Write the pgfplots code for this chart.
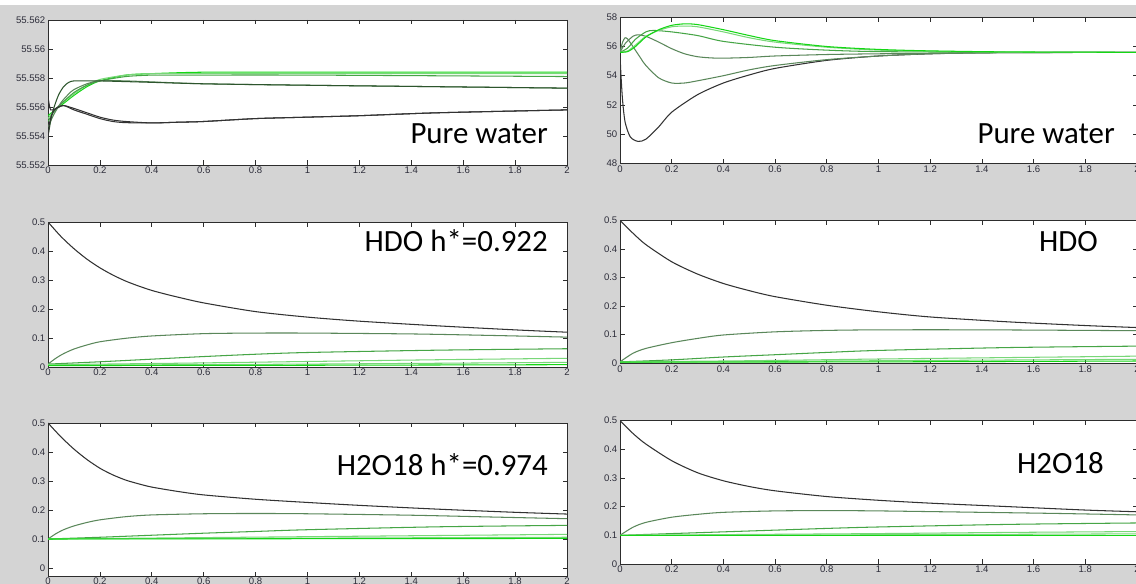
\documentclass[border=0pt]{standalone}
\usepackage{pgfplots}
\pgfplotsset{compat=1.18}
\usepackage{fontspec}
\setmainfont{Liberation Sans}
\newfontfamily\calfont{Carlito}
\definecolor{bg}{RGB}{212,212,212}
\definecolor{axl}{RGB}{45,45,45}
\definecolor{tlc}{RGB}{45,45,58}
\definecolor{kA}{RGB}{50,50,50}
\definecolor{kB}{RGB}{45,85,45}
\definecolor{kC}{RGB}{90,135,90}
\definecolor{kD}{RGB}{70,165,70}
\definecolor{kE}{RGB}{120,215,120}
\definecolor{kF}{RGB}{20,215,20}
\pgfplotsset{mat/.style={
  scale only axis, anchor=south west,
  xmin=0, xmax=2,
  axis background/.style={fill=white},
  axis line style={draw=axl, line width=0.9bp},
  tick align=inside, major tick length=4.5bp,
  xtick pos=both, ytick pos=both,
  xticklabel pos=left, yticklabel pos=left,
  xtick={0,0.2,0.4,0.6,0.8,1,1.2,1.4,1.6,1.8,2},
  xticklabels={0,0.2,0.4,0.6,0.8,1,1.2,1.4,1.6,1.8,2},
  tick style={draw=axl, line width=0.7bp},
  ticklabel style={font=\fontsize{9.6}{10}\selectfont, text=tlc},
  xticklabel style={inner sep=2pt},
  yticklabel style={inner sep=2.5pt},
  every axis plot/.append style={line width=1.05bp, smooth, tension=0.45, mark=none},
}}
\pgfplotsset{frac/.style={ymax=0.5, ytick={0,0.1,0.2,0.3,0.4,0.5}, yticklabels={0,0.1,0.2,0.3,0.4,0.5}}}
\begin{document}
\begin{tikzpicture}
\useasboundingbox (0,0) rectangle (1136bp,584bp);
\clip (0,0) rectangle (1136bp,584bp);
\fill[bg] (0,0) rectangle (1136bp,584bp);
\fill[white] (0,579bp) rectangle (1136bp,584bp);

% ---------- Top left: Pure water ----------
\begin{axis}[mat, at={(48bp,419bp)}, width=519bp, height=145bp,
  ymin=55.552, ymax=55.562,
  ytick={55.552,55.554,55.556,55.558,55.56,55.562},
  yticklabels={55.552,55.554,55.556,55.558,55.56,55.562}]
\addplot[kF] coordinates {(0,55.5554) (0.02,55.5557) (0.05,55.5561) (0.1,55.5568) (0.15,55.5574) (0.2,55.5578) (0.3,55.5582) (0.4,55.5583) (0.6,55.5584) (1,55.5584) (2,55.5584)};
\addplot[kE] coordinates {(0,55.5552) (0.02,55.5557) (0.05,55.5562) (0.1,55.5569) (0.15,55.5575) (0.2,55.5579) (0.3,55.5582) (0.4,55.5583) (0.6,55.5583) (1,55.5583) (2,55.5583)};
\addplot[kD] coordinates {(0,55.5550) (0.02,55.5556) (0.05,55.5562) (0.1,55.5570) (0.15,55.5575) (0.2,55.5578) (0.3,55.5581) (0.4,55.5582) (0.5,55.5582) (1,55.5582) (2,55.5581)};
\addplot[kC] coordinates {(0,55.5546) (0.02,55.5554) (0.05,55.5563) (0.08,55.5569) (0.1,55.5572) (0.15,55.5576) (0.2,55.5578) (0.3,55.5578) (0.6,55.5576) (1,55.5575) (1.5,55.5574) (2,55.5573)};
\addplot[kB] coordinates {(0,55.5540) (0.01,55.5550) (0.02,55.5558) (0.04,55.5568) (0.06,55.5574) (0.08,55.5577) (0.1,55.5578) (0.15,55.5578) (0.2,55.5578) (0.4,55.5577) (0.6,55.5576) (1,55.5575) (1.5,55.5574) (2,55.5573)};
\addplot[kA] coordinates {(0,55.5567) (0.01,55.5558) (0.03,55.5559) (0.06,55.5561) (0.1,55.5559) (0.15,55.5556) (0.2,55.5553) (0.25,55.5551) (0.3,55.5550) (0.4,55.5549) (0.5,55.55495) (0.6,55.5550) (0.8,55.5552) (1,55.5553) (1.2,55.5554) (1.5,55.5556) (2,55.5558)};
\addplot[kA] coordinates {(0,55.5538) (0.005,55.5548) (0.015,55.5555) (0.03,55.5559) (0.06,55.5561) (0.1,55.5558) (0.15,55.5555) (0.2,55.5552) (0.25,55.5550) (0.3,55.55492) (0.4,55.5549) (0.5,55.55495) (0.6,55.5550) (0.8,55.5552) (1,55.5553) (1.2,55.5554) (1.5,55.5556) (2,55.5558)};
\end{axis}

% ---------- Top right: Pure water ----------
\begin{axis}[mat, at={(620bp,420.7bp)}, width=517bp, height=146bp,
  ymin=48, ymax=58, ytick={48,50,52,54,56,58}, yticklabels={48,50,52,54,56,58}]
\addplot[kA] coordinates {(0,55.6) (0.003,54.3) (0.01,52.3) (0.02,50.8) (0.04,49.8) (0.07,49.5) (0.1,49.65) (0.15,50.5) (0.2,51.5) (0.3,52.7) (0.4,53.5) (0.5,54.05) (0.6,54.5) (0.8,55.05) (1,55.35) (1.2,55.5) (1.4,55.57) (2,55.6)};
\addplot[kC] coordinates {(0,55.6) (0.01,56.3) (0.02,56.6) (0.03,56.5) (0.05,56.0) (0.08,55.2) (0.1,54.7) (0.15,53.85) (0.2,53.5) (0.25,53.5) (0.3,53.65) (0.4,54.0) (0.5,54.4) (0.6,54.7) (0.8,55.1) (1,55.35) (1.2,55.5) (1.5,55.58) (2,55.6)};
\addplot[kC] coordinates {(0,55.6) (0.02,56.2) (0.05,56.7) (0.07,56.8) (0.1,56.7) (0.15,56.3) (0.2,55.85) (0.25,55.5) (0.3,55.3) (0.35,55.22) (0.4,55.2) (0.5,55.25) (0.6,55.35) (0.8,55.45) (1,55.5) (1.5,55.58) (2,55.6)};
\addplot[kD] coordinates {(0,55.6) (0.03,55.9) (0.06,56.5) (0.1,57.0) (0.13,57.1) (0.2,57.0) (0.3,56.75) (0.4,56.35) (0.6,55.95) (0.8,55.75) (1,55.65) (1.5,55.6) (2,55.6)};
\addplot[kE] coordinates {(0,55.6) (0.03,55.7) (0.06,56.1) (0.1,56.7) (0.15,57.1) (0.2,57.35) (0.25,57.4) (0.3,57.35) (0.4,57.0) (0.5,56.6) (0.6,56.3) (0.8,55.95) (1,55.75) (1.2,55.68) (1.5,55.62) (2,55.6)};
\addplot[kF] coordinates {(0,55.6) (0.03,55.65) (0.06,56.0) (0.1,56.65) (0.15,57.15) (0.2,57.45) (0.25,57.55) (0.3,57.5) (0.4,57.15) (0.5,56.75) (0.6,56.4) (0.8,56.0) (1,55.8) (1.2,55.7) (1.5,55.63) (2,55.6)};
\end{axis}

% ---------- Middle left: HDO h*=0.922 ----------
\begin{axis}[mat, frac, at={(48bp,217bp)}, width=519bp, height=145bp, ymin=0]
\addplot[kA] coordinates {(0,0.5) (0.05,0.45) (0.1,0.408) (0.15,0.372) (0.2,0.342) (0.25,0.317) (0.3,0.296) (0.35,0.279) (0.4,0.264) (0.45,0.252) (0.5,0.241) (0.6,0.221) (0.8,0.191) (1,0.172) (1.2,0.158) (1.5,0.142) (1.8,0.128) (2,0.12)};
\addplot[kC] coordinates {(0,0.01) (0.03,0.03) (0.06,0.046) (0.1,0.062) (0.15,0.076) (0.2,0.087) (0.3,0.099) (0.4,0.107) (0.6,0.115) (0.8,0.117) (1,0.117) (1.4,0.114) (1.7,0.109) (2,0.103)};
\addplot[kD] coordinates {(0,0.01) (0.2,0.018) (0.4,0.027) (0.6,0.036) (0.8,0.044) (1,0.05) (1.5,0.058) (2,0.063)};
\addplot[kE] coordinates {(0,0.008) (0.5,0.013) (1,0.019) (1.5,0.025) (2,0.03)};
\addplot[kE] coordinates {(0,0.006) (1,0.01) (2,0.016)};
\addplot[kF] coordinates {(0,0.005) (1,0.006) (2,0.008)};
\end{axis}

% ---------- Middle right: HDO ----------
\begin{axis}[mat, frac, at={(620bp,220.7bp)}, width=517bp, height=143bp, ymin=0]
\addplot[kA] coordinates {(0,0.5) (0.05,0.455) (0.1,0.415) (0.2,0.355) (0.3,0.312) (0.4,0.279) (0.5,0.254) (0.6,0.233) (0.8,0.203) (1,0.18) (1.2,0.162) (1.5,0.145) (1.8,0.132) (2,0.125)};
\addplot[kC] coordinates {(0,0.005) (0.05,0.035) (0.1,0.052) (0.2,0.072) (0.3,0.087) (0.4,0.099) (0.6,0.11) (0.8,0.115) (1,0.117) (1.4,0.117) (2,0.114)};
\addplot[kD] coordinates {(0,0.005) (0.2,0.012) (0.4,0.022) (0.6,0.03) (0.8,0.038) (1,0.045) (1.5,0.055) (2,0.06)};
\addplot[kE] coordinates {(0,0.005) (0.5,0.009) (1,0.015) (1.5,0.02) (2,0.025)};
\addplot[kE] coordinates {(0,0.004) (1,0.009) (2,0.014)};
\addplot[kF] coordinates {(0,0.004) (1,0.005) (2,0.008)};
\end{axis}

% ---------- Bottom left: H2O18 h*=0.974 ----------
\begin{axis}[mat, frac, at={(48bp,8bp)}, width=519bp, height=153bp, ymin=-0.0276]
\addplot[kA] coordinates {(0,0.5) (0.05,0.452) (0.1,0.41) (0.15,0.374) (0.2,0.344) (0.25,0.321) (0.3,0.303) (0.35,0.29) (0.4,0.279) (0.5,0.264) (0.6,0.252) (0.8,0.237) (1,0.226) (1.2,0.216) (1.5,0.203) (1.8,0.192) (2,0.186)};
\addplot[kC] coordinates {(0,0.1) (0.03,0.118) (0.06,0.132) (0.1,0.145) (0.15,0.157) (0.2,0.166) (0.3,0.177) (0.4,0.183) (0.6,0.187) (0.8,0.188) (1,0.187) (1.4,0.182) (1.7,0.176) (2,0.17)};
\addplot[kD] coordinates {(0,0.1) (0.2,0.106) (0.4,0.113) (0.6,0.12) (0.8,0.126) (1,0.132) (1.5,0.142) (2,0.147)};
\addplot[kE] coordinates {(0,0.1) (0.5,0.104) (1,0.108) (1.5,0.112) (2,0.116)};
\addplot[kE] coordinates {(0,0.1) (1,0.103) (2,0.106)};
\addplot[kF] coordinates {(0,0.1) (1,0.101) (2,0.102)};
\end{axis}

% ---------- Bottom right: H2O18 ----------
\begin{axis}[mat, frac, at={(620bp,20bp)}, width=517bp, height=143.5bp, ymin=0]
\addplot[kA] coordinates {(0,0.5) (0.05,0.455) (0.1,0.418) (0.2,0.36) (0.3,0.318) (0.4,0.29) (0.5,0.27) (0.6,0.255) (0.8,0.235) (1,0.222) (1.2,0.212) (1.5,0.2) (1.8,0.188) (2,0.182)};
\addplot[kC] coordinates {(0,0.1) (0.05,0.128) (0.1,0.145) (0.2,0.163) (0.3,0.173) (0.4,0.18) (0.6,0.185) (0.8,0.186) (1,0.185) (1.4,0.18) (1.7,0.176) (2,0.171)};
\addplot[kD] coordinates {(0,0.1) (0.2,0.106) (0.4,0.112) (0.6,0.118) (0.8,0.124) (1,0.129) (1.5,0.138) (2,0.143)};
\addplot[kE] coordinates {(0,0.1) (0.5,0.103) (1,0.106) (1.5,0.11) (2,0.113)};
\addplot[kE] coordinates {(0,0.1) (1,0.102) (2,0.105)};
\addplot[kF] coordinates {(0,0.099) (1,0.099) (2,0.099)};
\end{axis}

% ---------- annotations ----------
\begin{scope}[every node/.style={anchor=base east, inner sep=0pt, font=\calfont\fontsize{31}{31}\selectfont}]
\node at (548bp,440bp) {Pure water};
\node at (1115bp,440bp) {Pure water};
\node at (548bp,332bp) {HDO h*=0.922};
\node at (1098bp,332bp) {HDO};
\node at (548bp,108bp) {H2O18 h*=0.974};
\node at (1104bp,110bp) {H2O18};
\end{scope}
\end{tikzpicture}
\end{document}
